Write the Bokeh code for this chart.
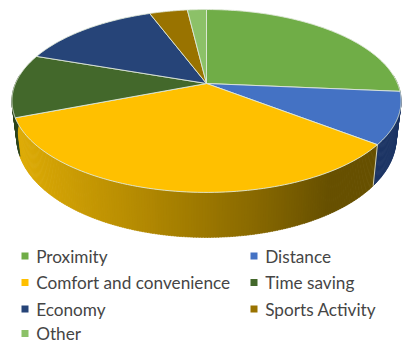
import numpy as np
from bokeh.core.properties import value
from bokeh.embed import file_html
from bokeh.models import ColumnDataSource
from bokeh.plotting import figure
from bokeh.resources import INLINE

categories = ["Proximity", "Distance", "Comfort and convenience", "Time saving",
              "Economy", "Sports Activity", "Other"]
shares = [26.4, 9.1, 33.6, 11.2, 14.0, 3.8, 1.9]
top_colors = ["#70AD47", "#4472C4", "#FFC000", "#43682B", "#264478", "#997300", "#8CC168"]
wall_dark = ["#4a7330", "#1c3564", "#6b5000", "#2c451c", "#1c3564", "#6b5000", "#5d8045"]

W, H = 403, 344
# Projection of the tilted disc
CX, CY = 206.0, 83.0
AX, BY, K = 191.0, 88.1, 0.191


def project(angle):
    u, v = np.sin(angle), -np.cos(angle)
    w = 1 - K * v
    return CX + AX * u / w, CY + BY * v / w


def project_base(angle):
    x, y = project(angle)
    v = -np.cos(angle)
    return CX + (x - CX) * 0.975, y + 35 + 10 * v


def mix(c1, c2, t):
    a = [int(c1[i:i + 2], 16) for i in (1, 3, 5)]
    b = [int(c2[i:i + 2], 16) for i in (1, 3, 5)]
    return "#" + "".join(f"{round(p + (q - p) * t):02x}" for p, q in zip(a, b))


p = figure(width=W, height=H, x_range=(0, W), y_range=(H, 0), output_backend="svg",
           toolbar_location=None, min_border=0, outline_line_color=None)
p.axis.visible = False
p.grid.visible = False

edges = np.concatenate([[0], np.cumsum(shares)]) / sum(shares) * 2 * np.pi

# Rim of the disc, shaded left to right across the visible front
wall_xs, wall_ys, wall_cols = [], [], []
for lo, hi, top, dark in zip(edges[:-1], edges[1:], top_colors, wall_dark):
    a0, a1 = max(lo, np.pi / 2 - 0.1), min(hi, 3 * np.pi / 2 + 0.1)
    if a1 <= a0:
        continue
    steps = max(2, int((a1 - a0) / 0.012))
    grid = np.linspace(a0, a1, steps + 1)
    for s, e in zip(grid[:-1], grid[1:]):
        x0, y0 = project(s)
        x1, y1 = project(e + 0.004)
        x2, y2 = project_base(e + 0.004)
        x3, y3 = project_base(s)
        wall_xs.append([x0, x1, x2, x3])
        wall_ys.append([y0, y1, y2, y3])
        if top == "#FFC000":
            t = (x0 - 20) / 310
            stops = [(0.0, "#dcaa06"), (0.35, "#b88d02"), (0.75, "#8a6a00"), (1.0, "#675000")]
            col = stops[-1][1]
            for (t0, c0), (t1, c1) in zip(stops[:-1], stops[1:]):
                if t <= t1:
                    col = mix(c0, c1, max(0, (t - t0) / (t1 - t0)))
                    break
            wall_cols.append(col)
        else:
            wall_cols.append(dark)
p.patches(wall_xs, wall_ys, fill_color=wall_cols, line_color=wall_cols, line_width=0.5)

# Pale seam where the two visible rim sections meet
seam = edges[2]
sx0, sy0 = project(seam)
sx1, sy1 = project_base(seam)
p.line([sx0, sx1], [sy0, sy1], line_color="#cfcfb8", line_width=1)

# Top face of each slice
xs, ys = [], []
for lo, hi in zip(edges[:-1], edges[1:]):
    arc = np.linspace(lo, hi, 90)
    ax, ay = project(arc)
    xs.append(np.r_[CX, ax].tolist())
    ys.append(np.r_[CY, ay].tolist())
p.patches(xs, ys, fill_color=top_colors, line_color="#dfe8d8", line_width=0.9)

# Legend in two columns, filled row by row
col_x = [24.5, 253.5]
row_y = [255.5, 282.0, 308.5, 333.0]
leg = ColumnDataSource(dict(
    x=[col_x[i % 2] for i in range(len(categories))],
    tx=[col_x[i % 2] + 11.2 for i in range(len(categories))],
    y=[row_y[i // 2] for i in range(len(categories))],
    label=categories, color=top_colors,
))
p.rect("x", "y", width=7, height=7, fill_color="color", line_color=None, source=leg)
p.text("tx", "y", text="label", source=leg, text_font=value("Lato"), text_font_size="17.2px",
       text_baseline="middle", text_color="#454545")

open("out.html", "w").write(file_html(p, INLINE))
